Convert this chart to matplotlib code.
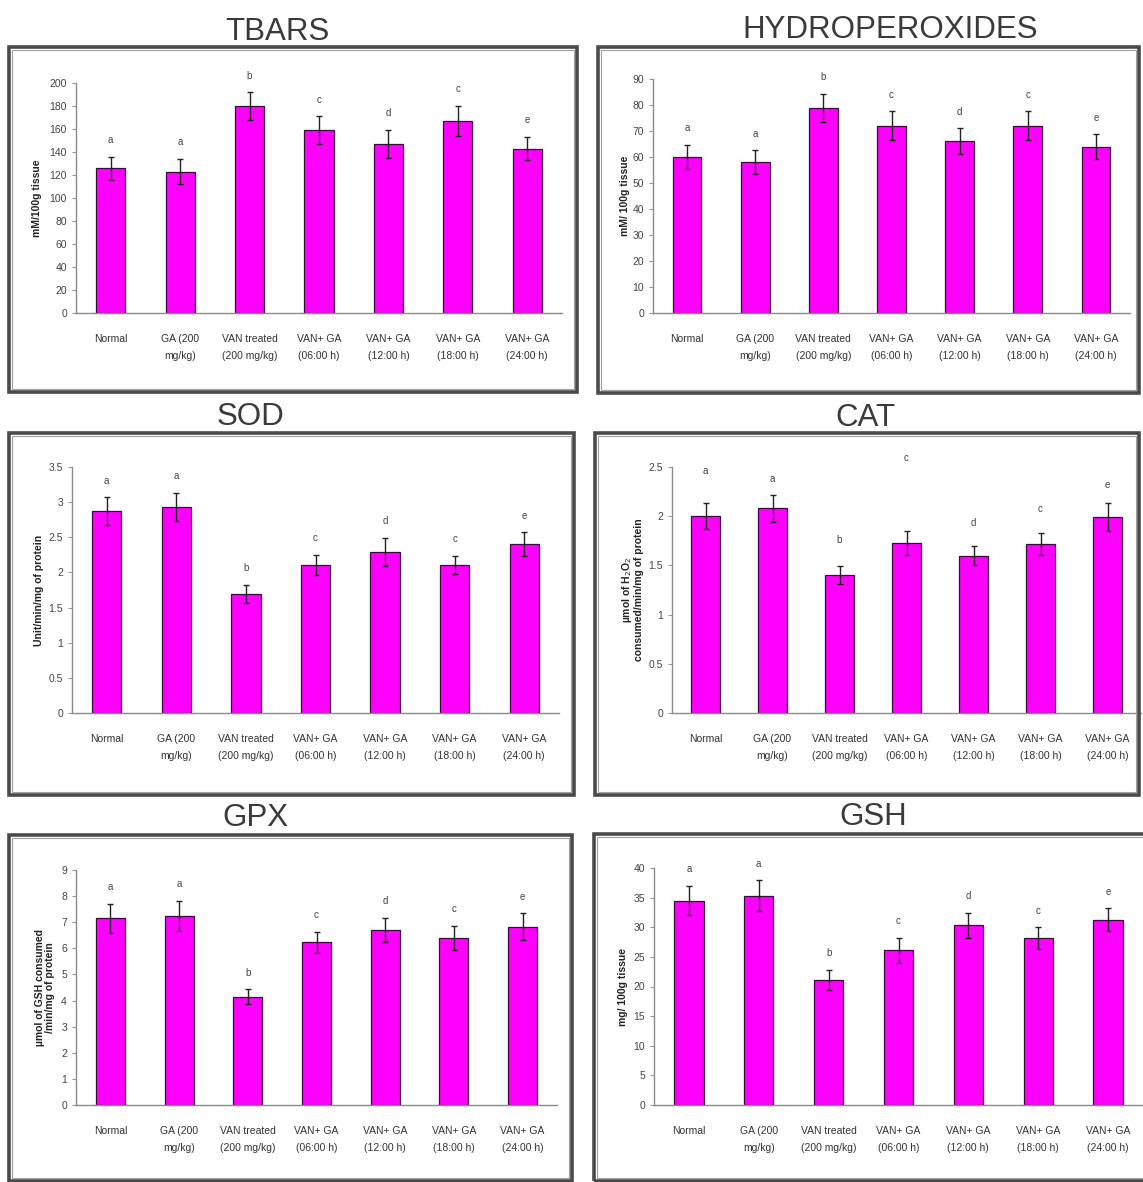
#!/usr/bin/env python
# -*- coding: utf-8 -*-

""" Six panel bar chart of oxidative stress markers """

# Libraries
import matplotlib
matplotlib.use("Agg")
import matplotlib.pyplot as plt
from matplotlib.patches import Rectangle


GROUPS = ["Normal", "GA (200\nmg/kg)", "VAN treated\n(200 mg/kg)",
          "VAN+ GA\n(06:00 h)", "VAN+ GA\n(12:00 h)",
          "VAN+ GA\n(18:00 h)", "VAN+ GA\n(24:00 h)"]
LETTERS = ["a", "a", "b", "c", "d", "c", "e"]

tbars_mean = [126, 123, 180, 159, 147, 167, 143]
tbars_err = [10, 11, 12, 12, 12, 13, 10]
hydro_mean = [60, 58, 79, 72, 66, 72, 64]
hydro_err = [4.7, 4.6, 5.4, 5.6, 5.0, 5.6, 4.7]
sod_mean = [2.87, 2.93, 1.69, 2.11, 2.29, 2.11, 2.40]
sod_err = [0.20, 0.20, 0.13, 0.14, 0.20, 0.13, 0.17]
cat_mean = [2.00, 2.08, 1.40, 1.73, 1.60, 1.72, 1.99]
cat_err = [0.13, 0.14, 0.09, 0.12, 0.10, 0.11, 0.14]
cat_letter_y = [2.46, 2.38, 1.76, 2.59, 1.93, 2.07, 2.32]
gpx_mean = [7.15, 7.25, 4.15, 6.23, 6.70, 6.41, 6.83]
gpx_err = [0.55, 0.58, 0.28, 0.41, 0.47, 0.46, 0.51]
gsh_mean = [34.5, 35.3, 21.1, 26.1, 30.3, 28.2, 31.3]
gsh_err = [2.5, 2.6, 1.7, 2.1, 2.1, 1.8, 1.9]

W, H = 1143, 1182

# title, y label, values, errors, y max, y step, letter heights
# plus pixel boxes: axes (l, t, r, b), frame (l, t, r, b), title centre
PANELS = [
    ("TBARS", "mM/100g tissue", tbars_mean, tbars_err, 200, 20, None,
     (76, 83, 562, 313), (9, 47, 577, 392), (277, 32), 37),
    ("HYDROPEROXIDES", "mM/ 100g tissue", hydro_mean, hydro_err, 90, 10,
     None, (653, 79, 1130, 313), (598, 47, 1139, 393), (890, 30), 625),
    ("SOD", "Unit/min/mg of protein", sod_mean, sod_err, 3.5, 0.5, None,
     (72, 467, 559, 713), (9, 433, 574, 795), (250, 417), 39),
    ("CAT", "\u00b5mol of H$_2$O$_2$\nconsumed/min/mg of protein",
     cat_mean, cat_err, 2.5, 0.5, cat_letter_y,
     (672, 467, 1141, 713), (595, 433, 1139, 795), (865, 418), 632),
    ("GPX", "\u00b5mol of GSH consumed\n/min/mg of protein",
     gpx_mean, gpx_err, 9, 1, None,
     (76, 870, 557, 1105), (9, 835, 572, 1181), (255, 818), 45),
    ("GSH", "mg/ 100g tissue", gsh_mean, gsh_err, 40, 5, None,
     (654, 868, 1143, 1105), (594, 834, 1150, 1181), (873, 817), 623),
]


def fx(px: float) -> float:
    """ Pixel x to figure fraction """
    return px / W


def fy(py: float) -> float:
    """ Pixel y (from top) to figure fraction """
    return 1 - py / H


def fmt_tick(v: float) -> str:
    """ Excel-like tick label """
    return f"{v:g}"


def main() -> None:
    """ Main function """
    plt.rcParams["font.family"] = ["Liberation Sans", "DejaVu Sans"]
    fig = plt.figure(figsize=(W / 100, H / 100), dpi=100)

    for (title, ylabel, mean, err, ymax, ystep, letter_y,
         abox, fbox, tpos, ylab_x) in PANELS:
        # frame around the panel
        l, t, r, b = fbox
        fig.patches.append(Rectangle(
            (fx(l), fy(b)), fx(r - l), (b - t) / H,
            transform=fig.transFigure, fill=False,
            edgecolor="#4a4a4a", linewidth=2.6, zorder=0))
        fig.patches.append(Rectangle(
            (fx(l + 3), fy(b - 3)), fx(r - l - 6), (b - t - 6) / H,
            transform=fig.transFigure, fill=False,
            edgecolor="#a0a0a0", linewidth=0.8, zorder=0))
        fig.text(fx(tpos[0]), fy(tpos[1]), title, ha="center", va="center",
                 fontsize=22.5, color="#3a3a3a")

        l, t, r, b = abox
        ax = fig.add_axes((fx(l), fy(b), fx(r - l), (b - t) / H))
        x = list(range(len(mean)))
        ax.bar(x, mean, width=0.42, color="#ff00ff",
               edgecolor="#3a0a3a", linewidth=0.9, zorder=2)
        ax.errorbar(x, mean, yerr=err, fmt="none", ecolor="#222222",
                    elinewidth=1.0, capsize=2, capthick=1.0, zorder=3)

        for i, (m, e) in enumerate(zip(mean, err)):
            if letter_y is not None:
                ax.text(i, letter_y[i], LETTERS[i], ha="center",
                        va="center", fontsize=7, color="#444444")
            else:
                ax.annotate(LETTERS[i], (i, m + e), xytext=(0, 12),
                            textcoords="offset points", ha="center",
                            va="center", fontsize=7, color="#444444")

        ax.set_xlim(-0.5, len(mean) - 0.5)
        ax.set_ylim(0, ymax)
        ticks = [k * ystep for k in range(int(round(ymax / ystep)) + 1)]
        ax.set_yticks(ticks)
        ax.set_yticklabels([fmt_tick(v) for v in ticks])
        ax.set_xticks(x)
        ax.set_xticklabels(GROUPS, fontsize=7.5, color="#333333",
                           linespacing=1.9)
        ax.tick_params(axis="x", length=0, pad=15)
        ax.tick_params(axis="y", labelsize=7.5, labelcolor="#444444",
                       color="#999999", length=3, width=0.8, direction="out")
        for side in ("top", "right"):
            ax.spines[side].set_visible(False)
        for side in ("left", "bottom"):
            ax.spines[side].set_color("#8a8a8a")
            ax.spines[side].set_linewidth(1.0)
        ax.set_facecolor("white")
        ax.patch.set_alpha(0)

        # y label placed in figure space
        fig.text(fx(ylab_x), fy((t + b) / 2), ylabel, rotation=90,
                 ha="center", va="center", fontsize=7.5, fontweight="bold",
                 color="#222222", linespacing=1.1)

    fig.savefig("out.png", dpi=100, facecolor="white")


# Call main
if __name__ == "__main__":
    main()
